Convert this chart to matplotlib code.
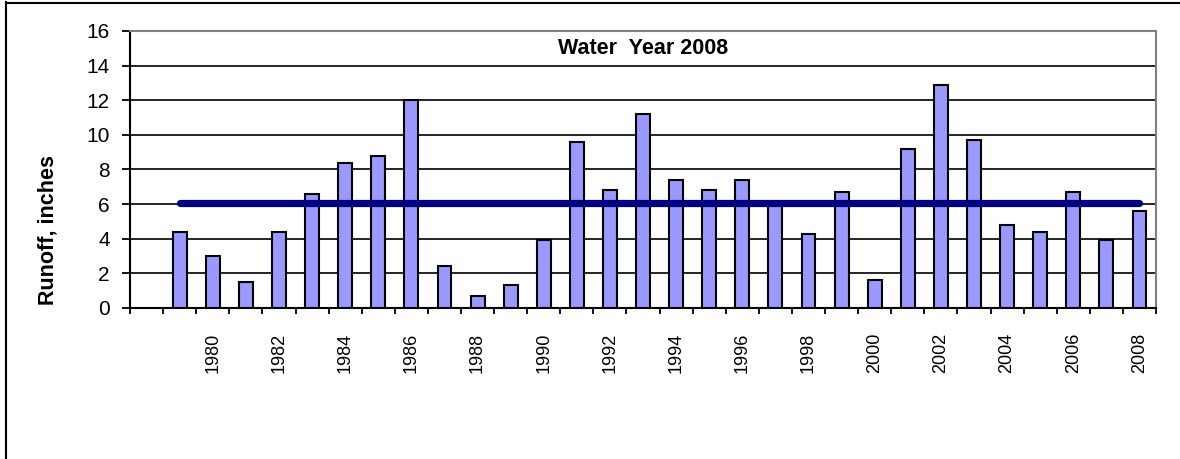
import matplotlib
matplotlib.use("Agg")
import matplotlib.pyplot as plt
import numpy as np
from matplotlib.lines import Line2D

# water years, runoff in inches
years = list(range(1979, 2009))
runoff = [4.4, 3.0, 1.5, 4.4, 6.6, 8.4, 8.8, 12.0, 2.4, 0.7,
          1.3, 3.9, 9.6, 6.8, 11.2, 7.4, 6.8, 7.4, 6.1, 4.3,
          6.7, 1.6, 9.2, 12.9, 9.7, 4.8, 4.4, 6.7, 3.9, 5.6]
mean_runoff = 6.05
yticks = [0, 2, 4, 6, 8, 10, 12, 14, 16]

plt.rcParams["font.family"] = ["Liberation Sans", "DejaVu Sans"]
plt.rcParams["font.size"] = 12.5

fig = plt.figure(figsize=(11.8, 4.59), dpi=100)
ax = fig.add_axes([0.1102, 0.329, 0.8695, 0.6035])

# first category slot is empty, bars start at slot 1
pos = np.arange(1, len(years) + 1)
ax.bar(pos, runoff, width=0.42, color="#9999FF", edgecolor="black",
       linewidth=1.5, zorder=3)
ax.plot([pos[0], pos[-1]], [mean_runoff, mean_runoff], color="#000080",
        linewidth=5.2, solid_capstyle="round", zorder=4)

ax.set_xlim(-0.5, len(years) + 0.5)
ax.set_ylim(0, 16)
ax.set_yticks(yticks)
ax.yaxis.grid(True, color="black", linewidth=1.2, zorder=0)
ax.set_axisbelow(True)

# category boundaries get the tick marks, labels every other category
ax.set_xticks(np.arange(-0.5, len(years) + 1, 1.0))
ax.set_xticklabels([])
lab_pos = np.arange(0, len(years) + 1, 2)
labels = [""] + [str(y) for y in years]
ax.set_xticks(lab_pos, minor=True)
ax.set_xticklabels([labels[i] for i in lab_pos], minor=True, rotation=90,
                   fontsize=13)
ax.tick_params(axis="x", which="minor", length=0, pad=18)
ax.tick_params(axis="x", which="major", direction="out", length=4.5, width=1.3)
ax.tick_params(axis="y", direction="out", length=5.5, width=1.3, pad=9,
               labelsize=15)

for s in ["left", "bottom"]:
    ax.spines[s].set_color("black")
    ax.spines[s].set_linewidth(1.5)
for s in ["top", "right"]:
    ax.spines[s].set_color("#808080")
    ax.spines[s].set_linewidth(1.5)

fig.text(48 / 1180, 1 - 230 / 459, "Runoff, inches", rotation=90,
         ha="center", va="center", fontweight="bold", fontsize=15.5)
ax.text(0.5, 0.935, "Water  Year 2008", transform=ax.transAxes, ha="center",
        va="center", fontweight="bold", fontsize=15.5)

# outer chart frame (left and top edges visible)
fig.add_artist(Line2D([0.005, 0.005], [0, 0.995], transform=fig.transFigure,
                      color="black", linewidth=1.5))
fig.add_artist(Line2D([0.005, 1.0], [0.994, 0.994], transform=fig.transFigure,
                      color="black", linewidth=1.5))

fig.savefig("out.png", dpi=100)
